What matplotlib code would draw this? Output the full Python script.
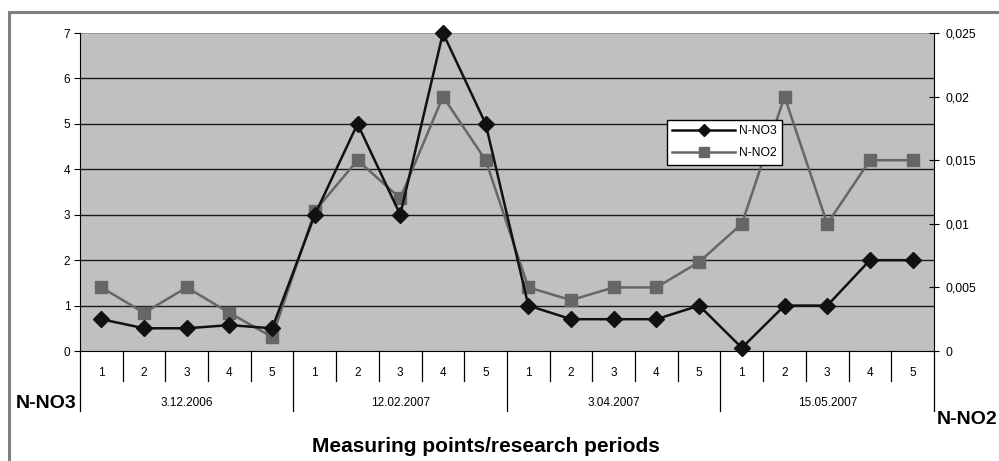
import matplotlib
matplotlib.use("Agg")
import matplotlib.pyplot as plt
from matplotlib.patches import Rectangle
from matplotlib.ticker import FuncFormatter, FixedLocator

plt.rcParams['font.family'] = ['Liberation Sans', 'DejaVu Sans']

periods = ["3.12.2006", "12.02.2007", "3.04.2007", "15.05.2007"]
points = ["1", "2", "3", "4", "5"]
n_no3 = [0.7, 0.5, 0.5, 0.57, 0.5,
         3.0, 5.0, 3.0, 7.0, 5.0,
         1.0, 0.7, 0.7, 0.7, 1.0,
         0.07, 1.0, 1.0, 2.0, 2.0]
n_no2 = [0.005, 0.003, 0.005, 0.003, 0.0011,
         0.011, 0.015, 0.012, 0.020, 0.015,
         0.005, 0.004, 0.005, 0.005, 0.007,
         0.010, 0.020, 0.010, 0.015, 0.015]
left_ticks = [0, 1, 2, 3, 4, 5, 6, 7]
right_ticks = [0, 0.005, 0.01, 0.015, 0.02, 0.025]

W, H = 999, 461
fig = plt.figure(figsize=(W / 100, H / 100), dpi=100)
fig.patch.set_facecolor('white')

# outer chart frame
fig.patches.append(Rectangle((9 / W, -0.1), 1.2, (H - 12) / H + 0.1,
                             transform=fig.transFigure, fill=False,
                             edgecolor='#808080', linewidth=2.2))

x0, x1, y0, y1 = 80, 934, 33, 351
ax2 = fig.add_axes([x0 / W, 1 - y1 / H, (x1 - x0) / W, (y1 - y0) / H])
ax = ax2.twinx()
# ax2 -> right axis (N-NO2), ax -> left axis (N-NO3)
ax2.yaxis.tick_right()
ax2.yaxis.set_label_position('right')
ax.yaxis.tick_left()

n = len(n_no3)
xs = list(range(n))
ax2.set_facecolor('#c0c0c0')
ax.set_xlim(-0.5, n - 0.5)
ax2.set_xlim(-0.5, n - 0.5)
ax.set_ylim(0, 7)
ax2.set_ylim(0, 0.025)
ax.yaxis.set_major_locator(FixedLocator(left_ticks))
ax2.yaxis.set_major_locator(FixedLocator(right_ticks))
ax2.yaxis.set_major_formatter(FuncFormatter(lambda v, p: ('%g' % v).replace('.', ',')))

# gridlines (left scale) drawn on the background axes
for t in left_ticks[1:-1]:
    ax2.axhline(t * 0.025 / 7, color='#1a1a1a', linewidth=1.0, zorder=1)
ax2.axhline(0.025, color='#909090', linewidth=1.2, zorder=1)

for a in (ax, ax2):
    for s in ['top', 'right', 'left', 'bottom']:
        a.spines[s].set_visible(False)
    a.set_xticks([])
ax.spines['left'].set_visible(True)
ax.spines['bottom'].set_visible(True)
ax.spines['left'].set_color('black')
ax.spines['bottom'].set_color('black')
ax2.spines['right'].set_visible(True)
ax2.spines['right'].set_color('black')
ax.tick_params(axis='y', direction='out', length=4, labelsize=8.5, pad=3,
               left=True, right=False, labelleft=True, labelright=False)
ax2.tick_params(axis='y', direction='inout', length=7, labelsize=8.7, pad=5,
                left=False, right=True, labelleft=False, labelright=True)

l2, = ax2.plot(xs, n_no2, color='#666666', linewidth=1.8, marker='s',
               markersize=9, markerfacecolor='#666666', markeredgecolor='#666666',
               label='N-NO2', zorder=3)
l1, = ax.plot(xs, n_no3, color='#111111', linewidth=1.8, marker='D',
              markersize=8, markerfacecolor='#111111', markeredgecolor='#111111',
              zorder=4, clip_on=False, label='N-NO3')

# category axis decoration
trans = ax.get_xaxis_transform()
def yax(px):
    return (y1 - px) / (y1 - y0)

for b in range(n + 1):
    xb = b - 0.5
    end = 411 if b % len(points) == 0 else 381
    ax.plot([xb, xb], [0, yax(end)], transform=trans, color='black',
            linewidth=0.9, clip_on=False)
for i in xs:
    ax.text(i, yax(373), points[i % len(points)], transform=trans,
            ha='center', va='center', fontsize=8.5)
for g, lab in enumerate(periods):
    xc = g * len(points) + (len(points) - 1) / 2
    ax.text(xc, yax(403), lab, transform=trans, ha='center', va='center',
            fontsize=8.5)

fig.text(16 / W, 1 - 403 / H, 'N-NO3', fontsize=14, fontweight='bold',
         ha='left', va='center')
fig.text(937 / W, 1 - 419 / H, 'N-NO2', fontsize=14, fontweight='bold',
         ha='left', va='center')
fig.text(486 / W, 1 - 446 / H, 'Measuring points/research periods',
         fontsize=15, fontweight='bold', ha='center', va='center')

leg = ax.legend([l1, l2], ['N-NO3', 'N-NO2'], loc='upper left',
                bbox_to_anchor=((667 - x0) / (x1 - x0), (y1 - 120) / (y1 - y0)),
                frameon=True, fancybox=False, edgecolor='black', framealpha=1,
                fontsize=8.7, borderpad=0.45, handlelength=5.2, handletextpad=0.3,
                labelspacing=0.8, borderaxespad=0, markerscale=0.75)
leg.get_frame().set_linewidth(1.0)

fig.savefig('out.png', dpi=100, facecolor='white')
